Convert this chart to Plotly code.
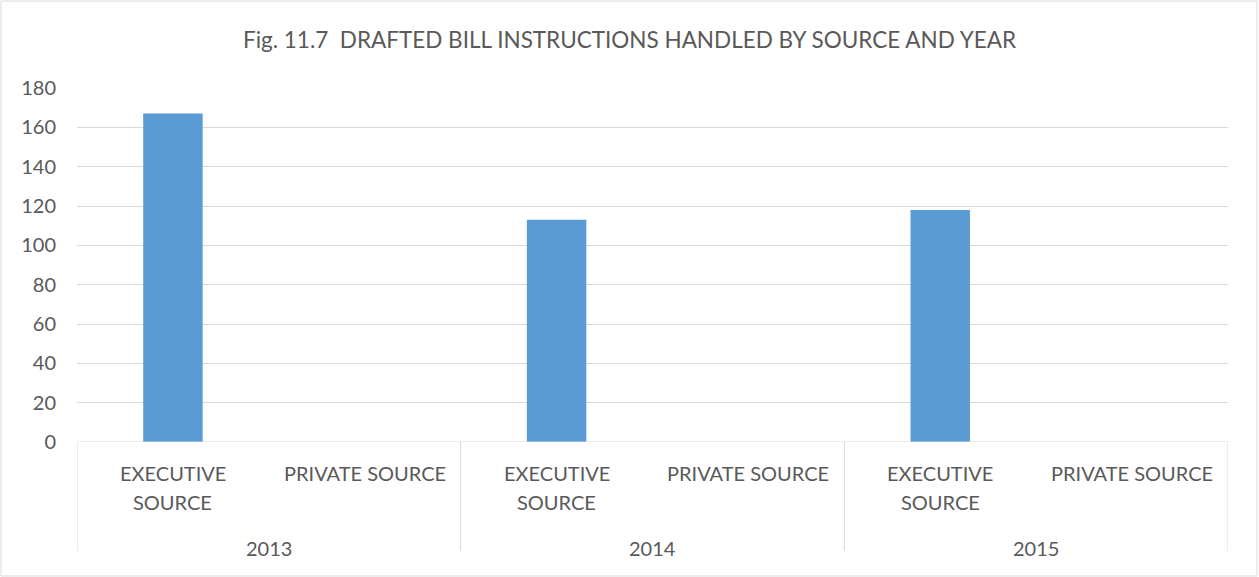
import plotly.graph_objects as go

years = ["2013", "2014", "2015"]
sources = ["EXECUTIVE SOURCE", "PRIVATE SOURCE"]
executive_values = [167, 113, 118]
private_values = [0, 0, 0]
y_ticks = [0, 20, 40, 60, 80, 100, 120, 140, 160, 180]
title_text = "Fig. 11.7  DRAFTED BILL INSTRUCTIONS HANDLED BY SOURCE AND YEAR"

W, H = 1259, 577
L, R, T, B = 77, 31, 88, 135
pw, ph = W - L - R, H - T - B

FONT = "Lato"
TXT = "#595959"
GRID = "#D9D9D9"
TICK_SIZE = 20

# build category keys (year + source) from the data lists
cats, vals = [], []
for yr, ev, pv in zip(years, executive_values, private_values):
    cats += [f"{yr} {sources[0]}", f"{yr} {sources[1]}"]
    vals += [ev, pv]

fig = go.Figure()
fig.add_trace(go.Bar(
    x=cats, y=vals,
    marker=dict(color="#5B9BD5", line=dict(width=0)),
    hoverinfo="skip",
))


def py(p):
    """pixel row -> paper y"""
    return (H - B - p) / ph


annotations = []
shapes = []
for i, yr in enumerate(years):
    ex_cat = f"{yr} {sources[0]}"
    pr_cat = f"{yr} {sources[1]}"
    words = sources[0].split(" ")
    annotations.append(dict(x=ex_cat, xref="x", y=py(473), yref="paper",
                            text=words[0], showarrow=False, yanchor="middle"))
    annotations.append(dict(x=ex_cat, xref="x", y=py(502), yref="paper",
                            text=words[1], showarrow=False, yanchor="middle"))
    annotations.append(dict(x=pr_cat, xref="x", y=py(473), yref="paper",
                            text=sources[1], showarrow=False, yanchor="middle"))
    annotations.append(dict(x=2 * i + 0.5, xref="x", y=py(548), yref="paper",
                            text=yr, showarrow=False, yanchor="middle"))

for k in range(len(years) + 1):
    xb = 2 * k - 0.5
    shapes.append(dict(type="line", xref="x", yref="paper", x0=xb, x1=xb,
                       y0=0, y1=py(551), line=dict(color=GRID, width=1)))

shapes.append(dict(type="line", xref="paper", yref="y", x0=0, x1=1, y0=0, y1=0,
                   line=dict(color=GRID, width=1)))
shapes.append(dict(type="rect", xref="paper", yref="paper",
                   x0=(1 - L) / pw, x1=(1257 - L) / pw,
                   y0=py(576), y1=py(1),
                   line=dict(color=GRID, width=1), layer="below"))

fig.update_layout(
    width=W, height=H,
    margin=dict(l=L, r=R, t=T, b=B),
    paper_bgcolor="white", plot_bgcolor="white",
    bargap=0.69,
    showlegend=False,
    font=dict(family=FONT, size=TICK_SIZE, color=TXT),
    title=dict(text=title_text,
               x=0.5, xanchor="center", y=1 - 40 / H, yanchor="middle",
               font=dict(family=FONT, size=22.5, color=TXT)),
    xaxis=dict(type="category", range=[-0.5, 5.5], showgrid=False,
               zeroline=False, showline=False, ticks="", showticklabels=False),
    yaxis=dict(range=[0, 180], tickvals=y_ticks, showgrid=True, gridcolor=GRID,
               gridwidth=1, zeroline=False, showline=False, ticks="",
               ticklabelstandoff=20,
               tickfont=dict(family=FONT, size=TICK_SIZE, color=TXT)),
    annotations=annotations,
    shapes=shapes,
)

fig.write_html("out.html", config={"displayModeBar": False},
               post_script="document.body.style.margin='0';")
